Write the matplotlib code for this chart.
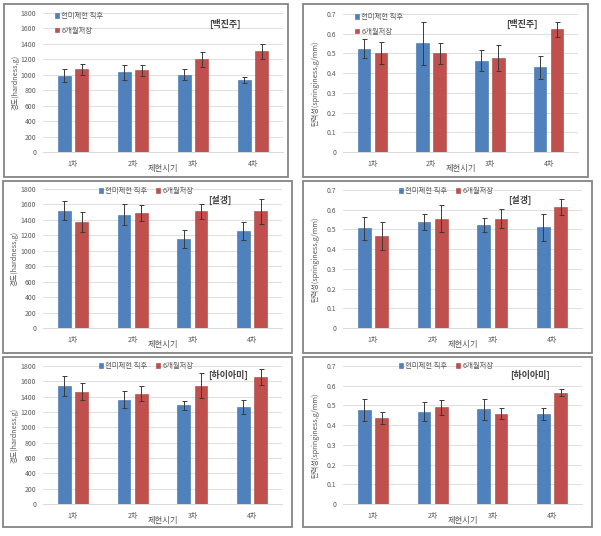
import matplotlib
matplotlib.use('Agg')
import matplotlib.pyplot as plt
from matplotlib.patches import Rectangle

plt.rcParams['font.family'] = ['Noto Sans CJK KR', 'DejaVu Sans']

categories = ['1차', '2차', '3차', '4차']
series_names = ['현미제현 직후', '6개월저장']
varieties = ['[백진주]', '[설갱]', '[하이아미]']

# hardness (g)
hard_fresh = [[985, 1030, 1000, 930], [1520, 1468, 1150, 1260], [1540, 1363, 1290, 1263]]
hard_fresh_err = [[85, 95, 70, 35], [120, 140, 120, 115], [130, 112, 60, 95]]
hard_stored = [[1073, 1056, 1199, 1302], [1373, 1489, 1511, 1511], [1467, 1441, 1545, 1657]]
hard_stored_err = [[70, 75, 95, 100], [125, 100, 100, 160], [105, 104, 160, 108]]

# springiness (g/mm)
spr_fresh = [[0.524, 0.551, 0.464, 0.429], [0.505, 0.538, 0.523, 0.510], [0.478, 0.469, 0.480, 0.456]]
spr_fresh_err = [[0.047, 0.110, 0.054, 0.060], [0.060, 0.040, 0.034, 0.070], [0.056, 0.050, 0.054, 0.030]]
spr_stored = [[0.500, 0.500, 0.476, 0.622], [0.466, 0.555, 0.555, 0.614], [0.437, 0.490, 0.459, 0.564]]
spr_stored_err = [[0.056, 0.054, 0.065, 0.037], [0.070, 0.070, 0.049, 0.039], [0.032, 0.040, 0.030, 0.017]]

BLUE = '#4F81BD'
RED = '#C0504D'
TXT = '#595959'

W, H = 601, 536
fig = plt.figure(figsize=(W / 100, H / 100), dpi=100)


def fx(x):
    return x / W


def fy(y):
    return 1 - y / H


def panel(frame, plot, fresh, fresh_err, stored, stored_err, ymax, ystep, ylabel,
          title, title_xy, leg_xy, vertical_legend):
    # outer frame of the chart
    x0, y0, x1, y1 = frame
    fig.patches.append(Rectangle((fx(x0), fy(y1)), fx(x1 - x0), (y1 - y0) / H,
                                 transform=fig.transFigure, fill=False,
                                 edgecolor='#858585', linewidth=1.3))
    px0, py0, px1, py1 = plot
    ax = fig.add_axes([fx(px0), fy(py1), fx(px1 - px0), (py1 - py0) / H])
    xs = list(range(len(categories)))
    w = 0.215
    ek = dict(elinewidth=0.7, ecolor='#3A3A3A', capthick=0.7)
    b1 = ax.bar([x - 0.145 for x in xs], fresh, w, yerr=fresh_err, capsize=1.8,
                color=BLUE, edgecolor='#3F6FA8', linewidth=0.4, error_kw=ek, zorder=3)
    b2 = ax.bar([x + 0.145 for x in xs], stored, w, yerr=stored_err, capsize=1.8,
                color=RED, edgecolor='#A94340', linewidth=0.4, error_kw=ek, zorder=3)
    ax.set_xlim(-0.5, len(categories) - 0.5)
    ax.set_ylim(0, ymax)
    ticks = [i * ystep for i in range(int(round(ymax / ystep)) + 1)]
    ax.set_yticks(ticks)
    if ystep < 1:
        ax.set_yticklabels(['0' if t == 0 else '%.1f' % t for t in ticks])
    ax.set_xticks(xs)
    ax.set_xticklabels(categories)
    ax.tick_params(axis='both', length=0, labelsize=5, colors=TXT)
    ax.tick_params(axis='y', pad=5)
    ax.tick_params(axis='x', pad=6)
    ax.grid(axis='y', color='#D9D9D9', linewidth=0.6, zorder=0)
    for s in ['top', 'right', 'left']:
        ax.spines[s].set_visible(False)
    ax.spines['bottom'].set_color('#D9D9D9')
    ax.spines['bottom'].set_linewidth(0.7)
    fig.text(fx((px0 + px1) / 2), fy(py1 + 17), '제현시기', ha='center', va='center',
             fontsize=6, color=TXT)
    fig.text(fx(x0 + 12), fy((py0 + py1) / 2), ylabel, rotation=90, ha='center',
             va='center', fontsize=5.2, color=TXT)
    fig.text(fx(title_xy[0]), fy(title_xy[1]), title, ha='center', va='center',
             fontsize=6.5, fontweight='bold', color='#404040')
    if vertical_legend:
        ax.legend([b1, b2], series_names, loc='upper left', ncol=1,
                  bbox_to_anchor=(fx(leg_xy[0]), fy(leg_xy[1])),
                  bbox_transform=fig.transFigure, frameon=False, fontsize=5.3,
                  handlelength=0.55, handleheight=0.55, handletextpad=0.3,
                  labelspacing=0.9, borderaxespad=0, borderpad=0, labelcolor=TXT)
    else:
        ax.legend([b1, b2], series_names, loc='upper left', ncol=2,
                  bbox_to_anchor=(fx(leg_xy[0]), fy(leg_xy[1])),
                  bbox_transform=fig.transFigure, frameon=False, fontsize=5.3,
                  handlelength=0.55, handleheight=0.55, handletextpad=0.3,
                  columnspacing=1.2, borderaxespad=0, borderpad=0, labelcolor=TXT)
    return ax


frames_left = [(4, 4, 288, 177), (3, 181, 292, 353), (3, 357, 292, 527)]
frames_right = [(303, 4, 588, 177), (303, 181, 592, 353), (303, 357, 592, 527)]
plots_left = [(43, 13, 283, 152), (43, 189, 282, 328), (43, 366, 282, 504)]
plots_right = [(343, 14, 578, 152), (343, 190, 582, 328), (343, 366, 582, 504)]
titles_left = [(225, 24), (220, 200), (228, 375)]
titles_right = [(522, 24), (520, 200), (530, 375)]
legs_left = [(55, 12), (99, 187), (99, 362)]
legs_right = [(355, 13), (399, 187), (399, 362)]

for i in range(3):
    panel(frames_left[i], plots_left[i], hard_fresh[i], hard_fresh_err[i],
          hard_stored[i], hard_stored_err[i], 1800, 200, '경도(hardness,g)',
          varieties[i], titles_left[i], legs_left[i], i == 0)
    panel(frames_right[i], plots_right[i], spr_fresh[i], spr_fresh_err[i],
          spr_stored[i], spr_stored_err[i], 0.7, 0.1, '탄력성(springiness,g/mm)',
          varieties[i], titles_right[i], legs_right[i], i == 0)

plt.savefig('out.png', dpi=100)
